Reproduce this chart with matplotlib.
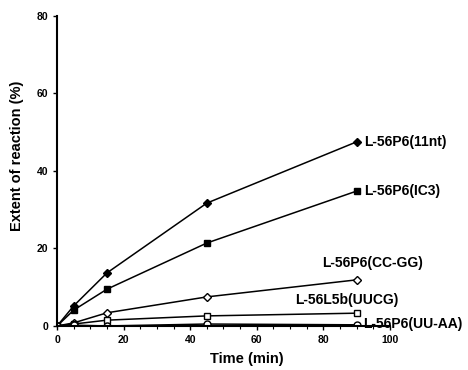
import matplotlib

matplotlib.use("Agg")
import matplotlib.pyplot as plt
from matplotlib.ticker import MultipleLocator

plt.rcParams["font.family"] = ["Liberation Sans", "DejaVu Sans"]
plt.rcParams["font.weight"] = "bold"

time_min = [0, 5, 15, 45, 90]
p6_11nt = [0, 5.2, 13.7, 31.7, 47.5]
p6_ic3 = [0, 4.1, 9.5, 21.4, 34.8]
p6_ccgg = [0, 0.8, 3.4, 7.5, 11.9]
l5b_uucg = [0, 0.5, 1.5, 2.6, 3.3]
p6_uuaa = [0, 0.2, 0.0, 0.5, 0.3]

# label offsets (points) from each series' last point
series = [
    ("L-56P6(11nt)", p6_11nt, "D", "black", (5.5, 0)),
    ("L-56P6(IC3)", p6_ic3, "s", "black", (5.5, 0)),
    ("L-56P6(CC-GG)", p6_ccgg, "D", "white", (-24.5, 12)),
    ("L-56L5b(UUCG)", l5b_uucg, "s", "white", (-44.5, 9.5)),
    ("L-56P6(UU-AA)", p6_uuaa, "o", "white", (4.5, 0.5)),
]

fig = plt.figure(figsize=(4.68, 3.70), dpi=100)
ax = fig.add_axes([0.122, 0.119, 0.711, 0.838])

for label, values, marker, face, offset in series:
    ax.plot(time_min, values, color="black", linewidth=1.1,
            marker=marker, markersize=5 if marker != "D" else 4.5,
            markerfacecolor=face, markeredgecolor="black", markeredgewidth=1.0)
    ax.annotate(label, (time_min[-1], values[-1]), xytext=offset,
                textcoords="offset points", fontsize=10, fontweight="bold",
                ha="left", va="center")

ax.set_xlim(0, 100)
ax.set_ylim(0, 80)
ax.xaxis.set_major_locator(MultipleLocator(20))
ax.xaxis.set_minor_locator(MultipleLocator(5))
ax.yaxis.set_major_locator(MultipleLocator(20))
ax.spines["top"].set_visible(False)
ax.spines["right"].set_visible(False)
ax.spines["left"].set_linewidth(1.5)
ax.spines["bottom"].set_linewidth(1.5)
ax.tick_params(axis="both", which="major", labelsize=7.5, length=3, width=1)
ax.tick_params(axis="both", which="minor", length=2, width=0.8)
ax.set_xlabel("Time (min)", fontsize=10.5, fontweight="bold")
ax.xaxis.set_label_coords(0.57, -0.085)
ax.set_ylabel("Extent of reaction (%)", fontsize=10.5, fontweight="bold")
ax.yaxis.set_label_coords(-0.1, 0.55)

fig.savefig("out.png", dpi=100)
